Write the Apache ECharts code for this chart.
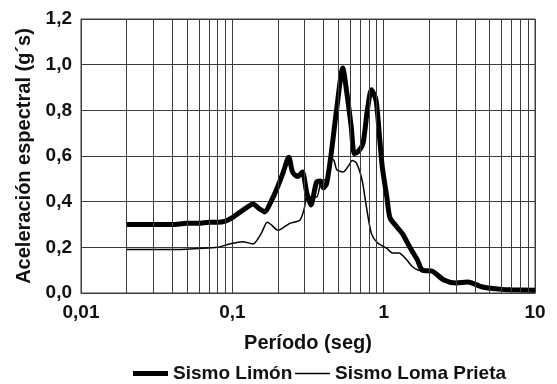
<!DOCTYPE html>
<html>
<head>
<meta charset="utf-8">
<script src="https://cdn.jsdelivr.net/npm/echarts@6/dist/echarts.min.js"></script>
<style>html,body{margin:0;padding:0;background:#fff}#c{width:557px;height:384px}</style>
</head>
<body>
<div id="c"></div>
<script>
// Sismo Limón (thick)
var limonPeriod = [0.02,0.03,0.04,0.05,0.06,0.07,0.08,0.09,0.1,0.11,0.125,0.137,0.15,0.164,0.18,0.195,0.216,0.236,0.25,0.27,0.29,0.31,0.33,0.36,0.38,0.40,0.42,0.45,0.49,0.537,0.57,0.61,0.64,0.68,0.73,0.78,0.83,0.89,0.94,0.98,1.05,1.1,1.22,1.33,1.49,1.67,1.8,2.1,2.5,3.0,3.6,4.5,5.8,7.0,10];
var limonValue  = [0.30,0.30,0.30,0.305,0.305,0.31,0.31,0.315,0.33,0.35,0.375,0.39,0.37,0.355,0.40,0.45,0.525,0.595,0.53,0.51,0.53,0.44,0.385,0.485,0.49,0.46,0.48,0.61,0.81,0.985,0.88,0.73,0.61,0.62,0.655,0.80,0.89,0.845,0.68,0.55,0.42,0.33,0.29,0.26,0.20,0.145,0.10,0.095,0.057,0.044,0.048,0.026,0.017,0.014,0.012];
// Sismo Loma Prieta (thin)
var lomaPeriod = [0.02,0.04,0.06,0.08,0.096,0.117,0.137,0.155,0.17,0.18,0.2,0.24,0.28,0.30,0.31,0.36,0.39,0.42,0.45,0.47,0.49,0.54,0.59,0.62,0.66,0.72,0.77,0.83,0.91,1.05,1.14,1.26,1.42,1.55,1.7,2.1,2.5,3.0,3.6,4.5,5.8,7.0,10];
var lomaValue  = [0.19,0.19,0.195,0.20,0.215,0.225,0.215,0.26,0.31,0.30,0.275,0.305,0.32,0.375,0.42,0.42,0.495,0.495,0.59,0.58,0.54,0.53,0.56,0.58,0.57,0.495,0.375,0.26,0.22,0.195,0.175,0.175,0.145,0.115,0.10,0.09,0.055,0.042,0.046,0.025,0.016,0.013,0.011];
// Tick labels
var xTickValues = [0.01,0.1,1,10];
var xTickLabels = ['0,01','0,1','1','10'];
var minorGridPeriods = [0.02,0.03,0.04,0.05,0.06,0.07,0.08,0.09,0.2,0.3,0.4,0.5,0.6,0.7,0.8,0.9,2,3,4,5,6,7,8,9];
var seriesNames = ['Sismo Limón','Sismo Loma Prieta'];

function pairs(xs, ys){ return xs.map(function(x,i){return [x, ys[i]];}); }
var gridColor = '#3c3c3c';
var font = 'Liberation Sans, Arial, sans-serif';
var legendText = {fontFamily: font, fontWeight: 'bold', fontSize: 19, color: '#111'};

var chart = echarts.init(document.getElementById('c'));
chart.setOption({
  animation: false,
  grid: {left: 81, right: 22, top: 19, bottom: 91, show: true, borderColor: gridColor, borderWidth: 1},
  xAxis: {
    type: 'log', logBase: 10, min: 0.01, max: 10,
    name: 'Período (seg)', nameLocation: 'middle', nameGap: 40,
    nameTextStyle: {fontFamily: font, fontWeight: 'bold', fontSize: 20, color: '#111'},
    axisLine: {show: true, lineStyle: {color: gridColor, width: 1}},
    axisTick: {show: false},
    axisLabel: {fontFamily: font, fontWeight: 'bold', fontSize: 19, color: '#111', margin: 10,
      formatter: function(v){ for (var i=0;i<xTickValues.length;i++){ if (Math.abs(Math.log10(v)-Math.log10(xTickValues[i]))<1e-6) return xTickLabels[i]; } return ''; }},
    splitLine: {show: true, lineStyle: {color: gridColor, width: 1}}
  },
  yAxis: {
    type: 'value', min: 0, max: 1.2, interval: 0.2,
    name: 'Aceleración espectral (g´s)', nameLocation: 'middle', nameGap: 44,
    nameTextStyle: {fontFamily: font, fontWeight: 'bold', fontSize: 20, color: '#111'},
    axisLine: {show: true, lineStyle: {color: gridColor, width: 1}},
    axisTick: {show: false},
    axisLabel: {fontFamily: font, fontWeight: 'bold', fontSize: 19, color: '#111', margin: 9,
      formatter: function(v){ return v.toFixed(1).replace('.', ','); }},
    splitLine: {show: true, lineStyle: {color: gridColor, width: 1}}
  },
  legend: [
    {data: [{name: seriesNames[0], icon: 'rect'}], left: 133, top: 364, itemGap: 0, itemWidth: 35, itemHeight: 5,
      textStyle: legendText, padding: 0, selectedMode: false},
    {data: [{name: seriesNames[1], icon: 'rect'}], left: 295, top: 364, itemGap: 0, itemWidth: 35, itemHeight: 1.5,
      textStyle: legendText, padding: 0, selectedMode: false}
  ],
  series: [
    {
      name: 'grid', type: 'line', data: [], silent: true, z: 1,
      markLine: {silent: true, symbol: ['none','none'], label: {show: false},
        lineStyle: {color: gridColor, width: 1, type: 'solid'},
        data: minorGridPeriods.map(function(p){ return {xAxis: p}; })}
    },
    {
      name: seriesNames[0], type: 'line', data: pairs(limonPeriod, limonValue),
      symbol: 'none', smooth: 0.25, z: 3,
      lineStyle: {color: '#000', width: 5}, itemStyle: {color: '#000'}
    },
    {
      name: seriesNames[1], type: 'line', data: pairs(lomaPeriod, lomaValue),
      symbol: 'none', smooth: 0.25, z: 4,
      lineStyle: {color: '#000', width: 1.5}, itemStyle: {color: '#000'}
    }
  ]
});
</script>
</body>
</html>
